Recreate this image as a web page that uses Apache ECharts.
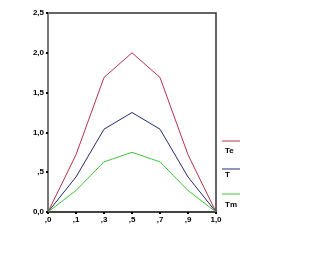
<!DOCTYPE html>
<html><head><meta charset="utf-8">
<script src="https://cdn.jsdelivr.net/npm/echarts@6/dist/echarts.min.js"></script>
<style>html,body{margin:0;padding:0;background:#fff}#c{width:330px;height:275px}</style>
</head><body><div id="c"></div>
<script>
var categories = [',0', ',1', ',3', ',5', ',7', ',9', '1,0'];
var seriesNames = ['Te', 'T', 'Tm'];
var te = [0, 0.72, 1.69, 2.0, 1.69, 0.72, 0];
var t = [0, 0.44, 1.04, 1.25, 1.04, 0.44, 0];
var tm = [0, 0.27, 0.63, 0.75, 0.63, 0.27, 0];
var yTickLabels = {0: '0,0', 0.5: ',5', 1: '1,0', 1.5: '1,5', 2: '2,0', 2.5: '2,5'};
var colors = ['#b3344c', '#27296f', '#3fc43f'];

var chart = echarts.init(document.getElementById('c'));
var font = 'Liberation Sans';
var legendGraphics = [];
var legY = [141, 169, 194];
var txtY = [151, 175, 205];
seriesNames.forEach(function (n, i) {
  legendGraphics.push({type: 'line', shape: {x1: 222, y1: legY[i], x2: 240, y2: legY[i]}, style: {stroke: colors[i], lineWidth: 1}});
  legendGraphics.push({type: 'text', x: 225, y: txtY[i], style: {text: n, fill: '#000', font: 'bold 8px ' + font, textVerticalAlign: 'middle'}});
});
chart.setOption({
  backgroundColor: '#fff',
  animation: false,
  grid: {left: 48, right: 114, top: 13, bottom: 63, show: true, borderColor: '#333', borderWidth: 1.5},
  xAxis: {
    type: 'category', data: categories, boundaryGap: false,
    axisLine: {lineStyle: {color: '#444', width: 2}},
    axisTick: {show: true, length: 2, alignWithLabel: true, lineStyle: {color: '#000', width: 2}},
    axisLabel: {color: '#000', fontFamily: font, fontSize: 8, fontWeight: 'bold', margin: 4, interval: 0},
    splitLine: {show: false}
  },
  yAxis: {
    type: 'value', min: 0, max: 2.5, interval: 0.5,
    axisLine: {show: true, lineStyle: {color: '#777', width: 2}},
    axisTick: {show: true, length: 2, lineStyle: {color: '#000', width: 2}},
    axisLabel: {color: '#000', fontFamily: font, fontSize: 8, fontWeight: 'bold', margin: 4,
      formatter: function (v) { return yTickLabels[v] !== undefined ? yTickLabels[v] : ''; }},
    splitLine: {show: false}
  },
  graphic: legendGraphics,
  series: [te, t, tm].map(function (d, i) {
    return {name: seriesNames[i], type: 'line', data: d, symbol: 'none',
      lineStyle: {color: colors[i], width: 1}, itemStyle: {color: colors[i]}};
  })
});
</script></body></html>
